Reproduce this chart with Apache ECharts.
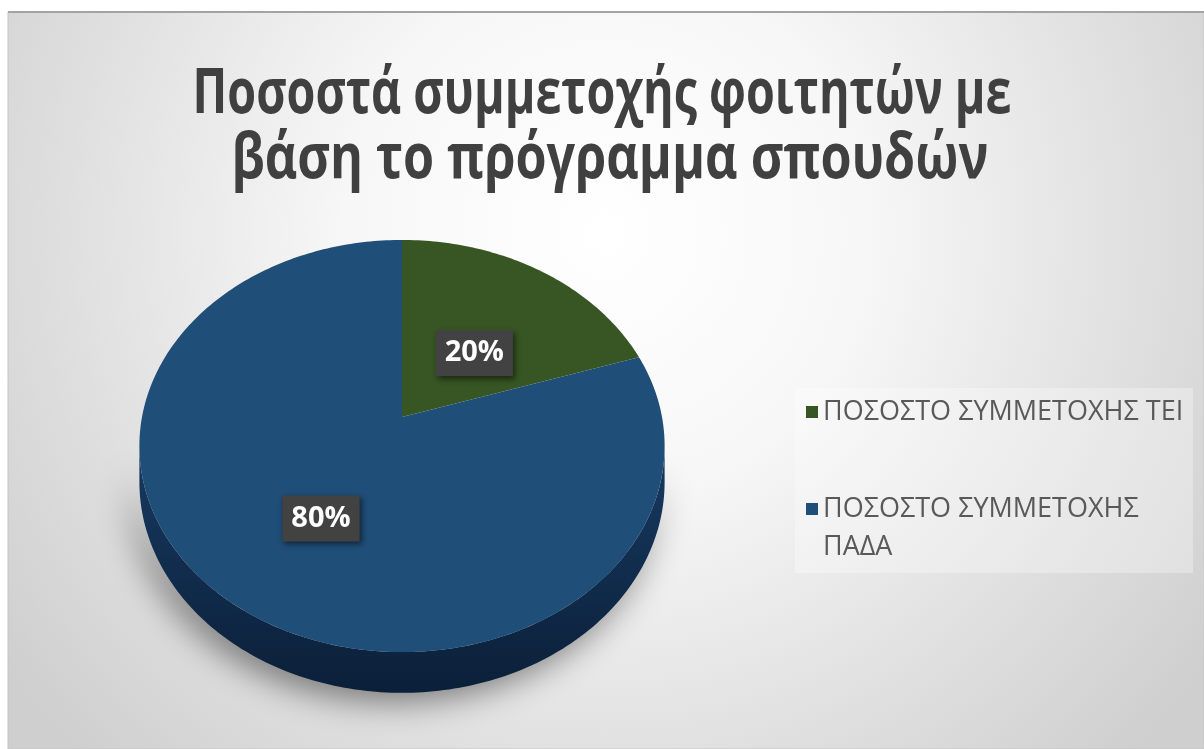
<!DOCTYPE html>
<html>
<head>
<meta charset="utf-8">
<title>Ποσοστά συμμετοχής φοιτητών</title>
<script src="https://cdn.jsdelivr.net/npm/echarts@6/dist/echarts.min.js"></script>
<style>
  html, body { margin: 0; padding: 0; background: #ffffff; }
  #chart { width: 1204px; height: 749px; }
</style>
</head>
<body>
<div id="chart"></div>
<script>
// ---- data ----
const titleLines = ['Ποσοστά συμμετοχής φοιτητών με', 'βάση το πρόγραμμα σπουδών'];
const categories = ['ΠΟΣΟΣΤΟ ΣΥΜΜΕΤΟΧΗΣ ΤΕΙ', 'ΠΟΣΟΣΤΟ ΣΥΜΜΕΤΟΧΗΣ ΠΑΔΑ'];
const shares = [20, 80];

// ---- styling ----
const topColors = ['#375623', '#1F4E79'];
const sideColors = [['#2b451b', '#1a2b10'], ['#173a62', '#0b1f38']];
const FONT = '"Open Sans", "Noto Sans", sans-serif';

const total = shares.reduce((a, b) => a + b, 0);
const startAngles = [];
let acc = 0;
shares.forEach(v => { startAngles.push(acc / total * 360); acc += v; });

// tilted disc seen in perspective: angle measured clockwise from 12 o'clock
const PIE = { cx: 402, cy: 417, sx: 260, sy: 202, k: 0.1408, depth: 35 };
function project(deg, r, drop) {
  const a = deg * Math.PI / 180;
  const X = r * Math.sin(a), Z = r * Math.cos(a);
  const w = 1 + PIE.k * Z;
  return [PIE.cx + PIE.sx * X / w, PIE.cy - PIE.sy * Z / w + (drop || 0) / w];
}
// silhouette of the wall: where the rim is widest
const SIDE_FROM = Math.acos(-PIE.k) * 180 / Math.PI;
const SIDE_TO = 360 - SIDE_FROM;

function arc(a0, a1, r, drop) {
  const pts = [];
  const n = Math.max(2, Math.ceil(a1 - a0));
  for (let j = 0; j <= n; j++) pts.push(project(a0 + (a1 - a0) * j / n, r, drop));
  return pts;
}

function renderSlice(i) {
  return function (params, api) {
    const value = api.value(0);
    const a0 = startAngles[i];
    const a1 = a0 + value / total * 360;
    const children = [];

    // front wall of the slab
    const s0 = Math.max(a0, SIDE_FROM), s1 = Math.min(a1, SIDE_TO);
    if (s1 > s0) {
      const upper = arc(s0, s1, 1, 0);
      const lower = arc(s0, s1, 1, PIE.depth).reverse();
      children.push({
        type: 'polygon',
        z2: 1,
        shape: { points: upper.concat(lower) },
        style: {
          fill: new echarts.graphic.LinearGradient(0, 0, 0, 1, [
            { offset: 0, color: sideColors[i][0] },
            { offset: 1, color: sideColors[i][1] }
          ]),
          shadowBlur: 34,
          shadowColor: 'rgba(0,0,0,0.5)',
          shadowOffsetX: -8,
          shadowOffsetY: 8
        }
      });
    }

    // top face
    const face = [project(0, 0, 0)].concat(arc(a0, a1, 1, 0));
    children.push({
      type: 'polygon',
      z2: 2,
      shape: { points: face },
      style: { fill: topColors[i] }
    });

    // percentage label
    const mid = (a0 + a1) / 2;
    const p = project(mid, 0.5, PIE.depth * 0.4);
    children.push({
      type: 'text',
      z2: 10,
      x: p[0],
      y: p[1],
      style: {
        text: Math.round(value / total * 100) + '%',
        fill: '#ffffff',
        font: 'bold 29px ' + FONT,
        align: 'center',
        verticalAlign: 'middle',
        lineHeight: 32,
        backgroundColor: '#424242',
        padding: [7, 9],
        shadowBlur: 6,
        shadowColor: 'rgba(0,0,0,0.55)',
        shadowOffsetX: 2,
        shadowOffsetY: 3
      }
    });
    return { type: 'group', children: children };
  };
}

const series = categories.map((name, i) => ({
  type: 'custom',
  name: name,
  coordinateSystem: 'none',
  z: 2,
  itemStyle: { color: topColors[i] },
  data: [[shares[i]]],
  renderItem: renderSlice(i)
}));

// title: bold, each line narrowed horizontally to the width of a condensed face
const TITLE_SIZE = 62;
const TITLE_WIDTHS = [819, 757];
const TITLE_CENTERS = [602, 610];
const titleFont = 'bold ' + TITLE_SIZE + 'px ' + FONT;
const measureCtx = document.createElement('canvas').getContext('2d');
measureCtx.font = titleFont;
const titleGraphics = titleLines.map((line, i) => ({
  type: 'text',
  z: 10,
  silent: true,
  x: TITLE_CENTERS[i],
  y: 95 + i * 65,
  scaleX: TITLE_WIDTHS[i] / measureCtx.measureText(line).width,
  style: {
    text: line,
    font: titleFont,
    fill: '#404040',
    align: 'center',
    verticalAlign: 'middle'
  }
}));

const legendText = { fontFamily: FONT, fontSize: 27, color: '#595959' };

const chart = echarts.init(document.getElementById('chart'), null, { renderer: 'canvas' });
chart.setOption({
  animation: false,
  backgroundColor: '#ffffff',
  legend: [
    {
      data: [categories[0]],
      orient: 'vertical',
      left: 806,
      top: 396,
      padding: 0,
      icon: 'rect',
      itemWidth: 12,
      itemHeight: 12,
      textStyle: Object.assign({ lineHeight: 32 }, legendText)
    },
    {
      data: [categories[1]],
      orient: 'vertical',
      left: 806,
      top: 452,
      padding: 0,
      icon: 'rect',
      itemWidth: 12,
      itemHeight: 12,
      // last word wraps below; a blank leading line keeps the marker beside the first line
      formatter: name => '\n' + name.replace(/ (\S+)$/, '\n$1'),
      textStyle: Object.assign({ lineHeight: 38 }, legendText)
    }
  ],
  graphic: [
    {
      type: 'rect',
      z: -10,
      silent: true,
      shape: { x: 8, y: 12, width: 1196, height: 737 },
      style: {
        fill: new echarts.graphic.RadialGradient(0.5, 0.3, 1.0, [
          { offset: 0, color: '#ffffff' },
          { offset: 0.35, color: '#f7f7f7' },
          { offset: 0.75, color: '#dedede' },
          { offset: 1, color: '#cfcfcf' }
        ]),
        stroke: '#c4c4c4',
        lineWidth: 1
      }
    },
    {
      type: 'line',
      z: -9,
      silent: true,
      shape: { x1: 8, y1: 12, x2: 1204, y2: 12 },
      style: { stroke: '#a3a3a3', lineWidth: 2 }
    },
    {
      type: 'rect',
      z: -8,
      silent: true,
      shape: { x: 795, y: 388, width: 398, height: 185 },
      style: { fill: 'rgba(255,255,255,0.3)' }
    }
  ].concat(titleGraphics),
  series: series
});
</script>
</body>
</html>
